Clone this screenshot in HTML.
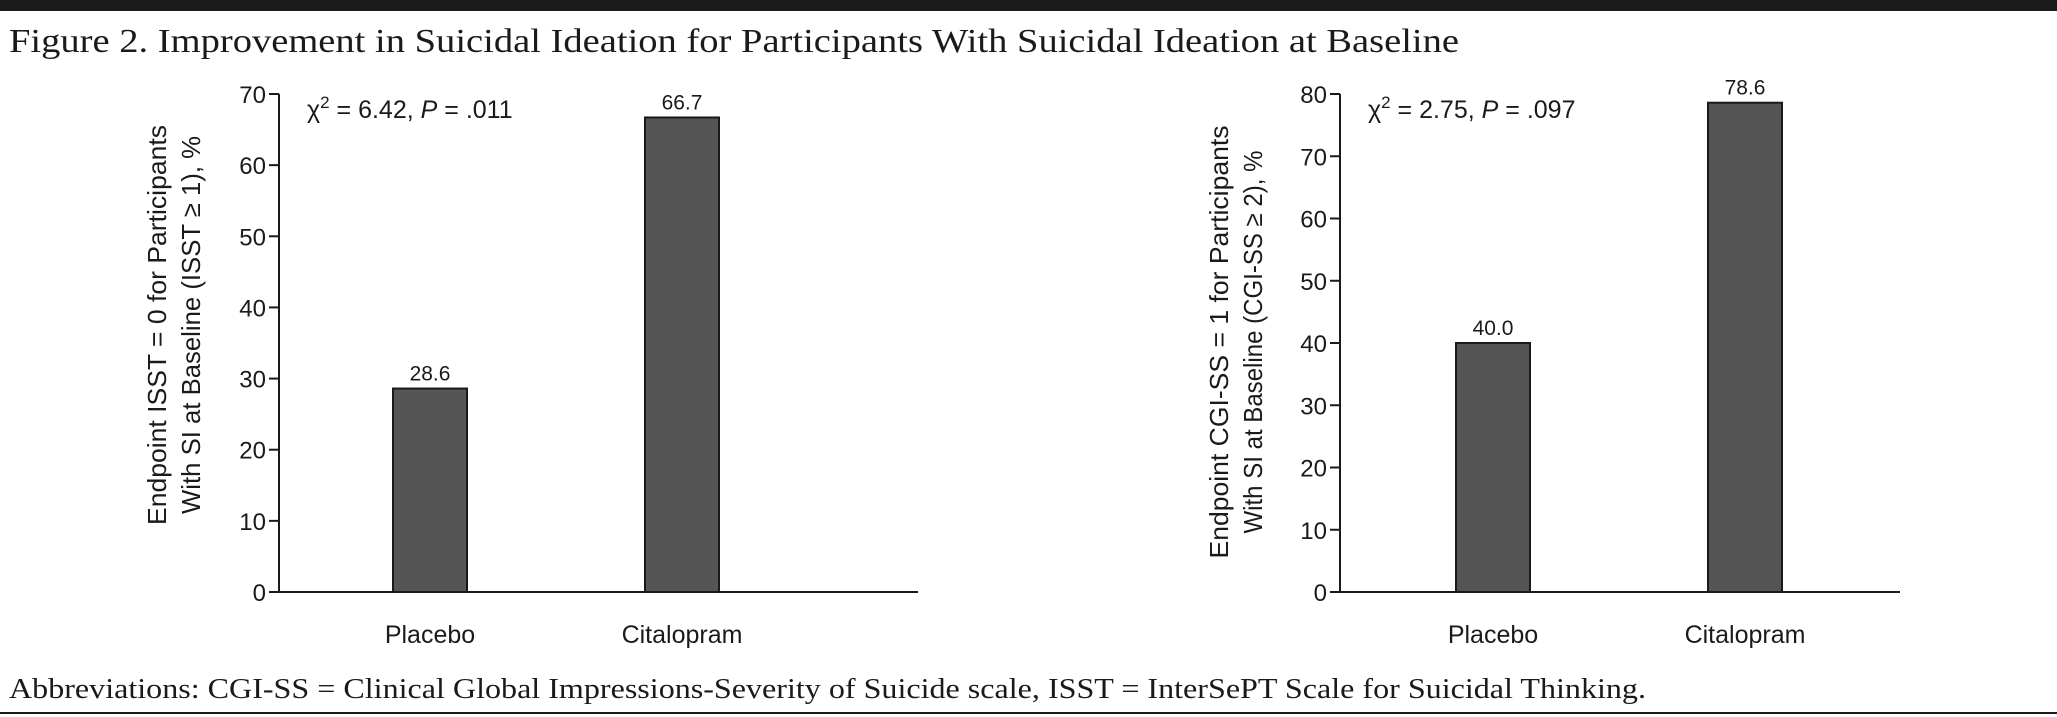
<!DOCTYPE html>
<html><head><meta charset="utf-8"><style>
html,body{margin:0;padding:0;background:#fff;}
svg{display:block;}
text{font-family:"Liberation Sans",sans-serif;fill:#1a1a1a;}
.serif{font-family:"Liberation Serif",serif;}
</style></head><body>
<svg id="fig" width="2057" height="717" viewBox="0 0 2057 717">
<rect x="0" y="0" width="2057" height="11" fill="#1a1a1a"/>
<text class="serif" x="9" y="52" font-size="34" textLength="1450" lengthAdjust="spacingAndGlyphs">Figure 2. Improvement in Suicidal Ideation for Participants With Suicidal Ideation at Baseline</text>
<text class="serif" x="9" y="698" font-size="28" textLength="1637" lengthAdjust="spacingAndGlyphs">Abbreviations: CGI-SS = Clinical Global Impressions-Severity of Suicide scale, ISST = InterSePT Scale for Suicidal Thinking.</text>
<rect x="0" y="712" width="2057" height="2" fill="#1a1a1a"/>
<g id="c1"></g>
<g id="c2"></g>
</svg>
<script>
const categories = ["Placebo","Citalopram"];
const isstValues = [28.6, 66.7];
const isstTicks = [0,10,20,30,40,50,60,70];
const cgiValues = [40.0, 78.6];
const cgiTicks = [0,10,20,30,40,50,60,70,80];
const NS="http://www.w3.org/2000/svg";
function mk(parent,tag,attrs,txt){const e=document.createElementNS(NS,tag);for(const k in attrs)e.setAttribute(k,attrs[k]);if(txt!==undefined)e.textContent=txt;parent.appendChild(e);return e;}
function chart(g,cfg){
  const y0=592,y1=94,ax=cfg.ax;
  const ymax=cfg.ticks[cfg.ticks.length-1];
  const Y=v=>y0-(v/ymax)*(y0-y1);
  const X=i=>cfg.barX[i];
  let e=mk(g,"line",{x1:ax,y1:y1,x2:ax,y2:y0,stroke:"#1a1a1a","stroke-width":2});
  
  
  e=mk(g,"line",{x1:ax,y1:y0,x2:cfg.xend,y2:y0,stroke:"#1a1a1a","stroke-width":2});
  
  
  cfg.ticks.forEach(t=>{
    let l=mk(g,"line",{x1:ax-10,y1:Y(t),x2:ax,y2:Y(t),stroke:"#1a1a1a","stroke-width":2});
    
    
    let tx=mk(g,"text",{x:ax-13,y:Y(t)+9,"font-size":24,"text-anchor":"end"},String(t));
    
    
  });
  cfg.values.forEach((v,i)=>{
    const w=cfg.barW;
    let r=mk(g,"rect",{x:X(i),y:Y(v),width:w,height:y0-Y(v),fill:"#555",stroke:"#1a1a1a","stroke-width":2});
    
    
    let vl=mk(g,"text",{x:X(i)+w/2,y:Y(v)-8,"font-size":21,"text-anchor":"middle"},v.toFixed(1));
    
    
    let cl=mk(g,"text",{x:X(i)+w/2,y:643,"font-size":25,"text-anchor":"middle"},categories[i]);
    
    
  });
  let st=mk(g,"text",{x:ax+28,y:118,"font-size":25});
  
  
  st.innerHTML='χ<tspan dy="-10" font-size="17">2</tspan><tspan dy="10"> = '+cfg.chi+', </tspan><tspan font-style="italic">P</tspan><tspan> = '+cfg.p+'</tspan>';
  const cx=cfg.titleX, cy=cfg.titleY;
  let yt=mk(g,"text",{"font-size":26,"text-anchor":"middle",transform:"translate("+cx+","+cy+") rotate(-90)"});
  
  
  mk(yt,"tspan",{x:0,y:0,textLength:cfg.l1,lengthAdjust:"spacingAndGlyphs"},cfg.t1);
  mk(yt,"tspan",{x:0,y:34,textLength:cfg.l2,lengthAdjust:"spacingAndGlyphs"},cfg.t2);
}
chart(document.getElementById('c1'),{ax:279,xend:918,barX:[393,645],barW:74,ticks:isstTicks,values:isstValues,chi:"6.42",p:".011",titleX:166,titleY:325,l1:400,l2:378,t1:"Endpoint ISST = 0 for Participants",t2:"With SI at Baseline (ISST ≥ 1), %"});
chart(document.getElementById('c2'),{ax:1340,xend:1900,barX:[1456,1708],barW:74,ticks:cgiTicks,values:cgiValues,chi:"2.75",p:".097",titleX:1228,titleY:342,l1:433,l2:383,t1:"Endpoint CGI-SS = 1 for Participants",t2:"With SI at Baseline (CGI-SS ≥ 2), %"});
</script>
</body></html>
